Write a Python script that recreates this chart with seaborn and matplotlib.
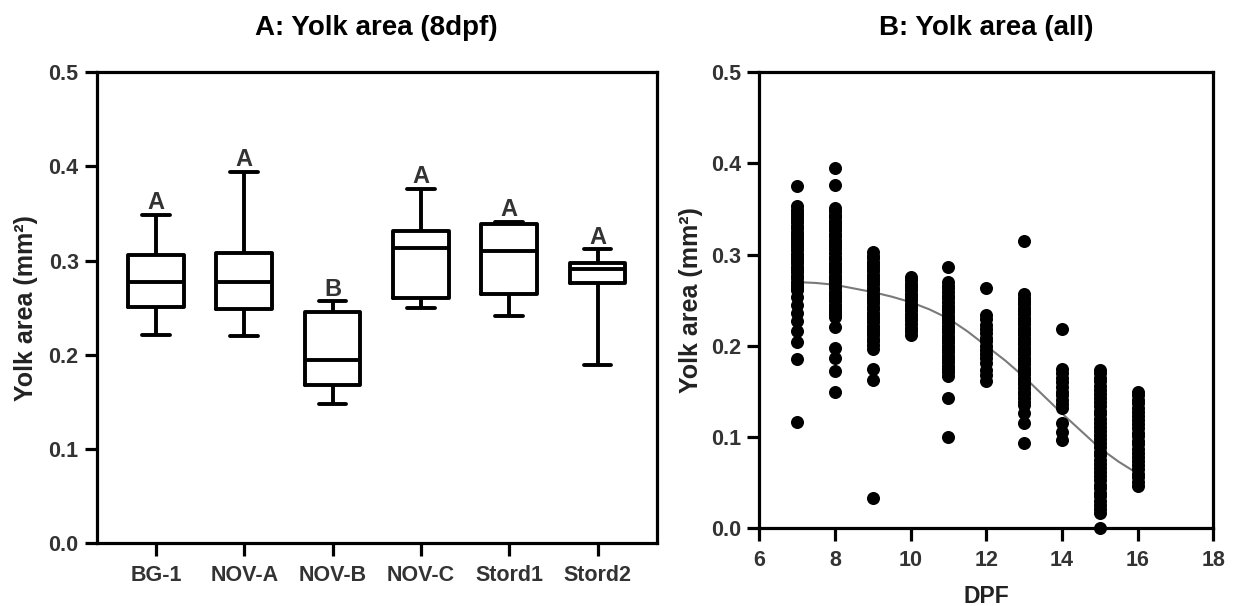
import numpy as np
import pandas as pd
import matplotlib
matplotlib.use("Agg")
import matplotlib.pyplot as plt
from matplotlib.ticker import FormatStrFormatter
import seaborn as sns

# panel A: min, q1, median, q3, max per population (8 dpf)
groups = ["BG-1", "NOV-A", "NOV-B", "NOV-C", "Stord1", "Stord2"]
bg1 = [0.221, 0.251, 0.277, 0.306, 0.349]
nov_a = [0.220, 0.249, 0.277, 0.308, 0.394]
nov_b = [0.148, 0.168, 0.195, 0.246, 0.257]
nov_c = [0.250, 0.260, 0.314, 0.332, 0.376]
stord1 = [0.241, 0.265, 0.310, 0.339, 0.341]
stord2 = [0.189, 0.276, 0.2915, 0.298, 0.312]
letters = ["A", "A", "B", "A", "A", "A"]

# panel B: yolk area of every larva by day post fertilisation
d7 = [0.375, 0.353, 0.349, 0.346, 0.342, 0.339, 0.336, 0.332, 0.329, 0.325, 0.322, 0.318,
      0.315, 0.312, 0.308, 0.305, 0.301, 0.298, 0.294, 0.291, 0.287, 0.284, 0.281, 0.277,
      0.274, 0.270, 0.267, 0.264, 0.261, 0.254, 0.245, 0.236, 0.227, 0.216, 0.204, 0.186, 0.117]
d8 = [0.395, 0.376, 0.351, 0.348, 0.344, 0.341, 0.337, 0.334, 0.330, 0.327, 0.323, 0.320,
      0.316, 0.313, 0.309, 0.306, 0.302, 0.298, 0.295, 0.291, 0.288, 0.284, 0.281, 0.277,
      0.273, 0.270, 0.266, 0.263, 0.259, 0.256, 0.252, 0.249, 0.245, 0.242, 0.238, 0.235,
      0.232, 0.221, 0.198, 0.187, 0.172, 0.150]
d9 = [0.303, 0.299, 0.296, 0.292, 0.289, 0.285, 0.282, 0.278, 0.275, 0.271, 0.268, 0.264,
      0.261, 0.257, 0.254, 0.250, 0.247, 0.243, 0.240, 0.236, 0.233, 0.229, 0.226, 0.222,
      0.219, 0.215, 0.212, 0.208, 0.205, 0.201, 0.197, 0.175, 0.163, 0.033]
d10 = [0.276, 0.272, 0.268, 0.265, 0.261, 0.257, 0.254, 0.250, 0.246, 0.243, 0.239, 0.235,
       0.232, 0.228, 0.224, 0.220, 0.216, 0.212]
d11 = [0.287, 0.270, 0.266, 0.263, 0.259, 0.255, 0.252, 0.248, 0.244, 0.241, 0.237, 0.233,
       0.230, 0.226, 0.222, 0.219, 0.215, 0.211, 0.208, 0.204, 0.200, 0.197, 0.193, 0.189,
       0.186, 0.182, 0.178, 0.175, 0.171, 0.167, 0.143, 0.100]
d12 = [0.263, 0.234, 0.229, 0.223, 0.219, 0.214, 0.209, 0.205, 0.200, 0.196, 0.191, 0.187,
       0.181, 0.174, 0.168, 0.161]
d13 = [0.315, 0.257, 0.253, 0.249, 0.246, 0.242, 0.238, 0.235, 0.231, 0.227, 0.224, 0.220,
       0.216, 0.213, 0.209, 0.205, 0.202, 0.198, 0.194, 0.191, 0.187, 0.183, 0.180, 0.176,
       0.172, 0.169, 0.165, 0.161, 0.158, 0.154, 0.150, 0.147, 0.143, 0.139, 0.135, 0.126,
       0.115, 0.093]
d14 = [0.219, 0.175, 0.170, 0.165, 0.160, 0.155, 0.150, 0.146, 0.141, 0.136, 0.132, 0.116,
       0.106, 0.097]
d15 = [0.174, 0.170, 0.165, 0.161, 0.156, 0.152, 0.147, 0.143, 0.138, 0.134, 0.129, 0.125,
       0.120, 0.116, 0.111, 0.107, 0.102, 0.098, 0.093, 0.089, 0.084, 0.080, 0.075, 0.071,
       0.066, 0.062, 0.057, 0.053, 0.048, 0.044, 0.039, 0.035, 0.030, 0.026, 0.021, 0.017,
       0.000]
d16 = [0.150, 0.146, 0.141, 0.137, 0.132, 0.128, 0.123, 0.119, 0.114, 0.110, 0.105, 0.101,
       0.096, 0.092, 0.087, 0.083, 0.078, 0.074, 0.069, 0.065, 0.060, 0.056, 0.051, 0.046]

# fitted curve
curve_dpf = [7, 7.5, 8, 8.5, 9, 9.5, 10, 10.5, 11, 11.5, 12, 12.5, 13, 13.5, 14, 14.5, 15, 15.5, 16]
curve_area = [0.270, 0.269, 0.267, 0.263, 0.259, 0.254, 0.248, 0.240, 0.230, 0.216, 0.200,
              0.184, 0.166, 0.146, 0.126, 0.107, 0.088, 0.073, 0.060]

boxes = [bg1, nov_a, nov_b, nov_c, stord1, stord2]
df_a = pd.DataFrame({
    "group": np.repeat(groups, 5),
    "area": np.concatenate(boxes),
})

by_day = {7: d7, 8: d8, 9: d9, 10: d10, 11: d11, 12: d12, 13: d13, 14: d14, 15: d15, 16: d16}
df_b = pd.DataFrame({
    "dpf": np.concatenate([[k] * len(v) for k, v in by_day.items()]),
    "area": np.concatenate(list(by_day.values())),
})

sns.set_style("ticks")
plt.rcParams["font.family"] = ["Liberation Sans", "DejaVu Sans"]
plt.rcParams["font.weight"] = "bold"
plt.rcParams["axes.labelweight"] = "bold"

txt = "#333333"
fig = plt.figure(figsize=(12.34, 6.06), dpi=100)
ax1 = fig.add_axes([0.0784, 0.1035, 0.4538, 0.7772])
ax2 = fig.add_axes([0.6153, 0.1282, 0.3679, 0.7525])

sns.boxplot(data=df_a, x="group", y="area", order=groups, fill=False, color="black",
            width=0.63, whis=(0, 100), linewidth=2.8, ax=ax1)
for i, lab in enumerate(letters):
    ax1.text(i, max(boxes[i]) + 0.006, lab, ha="center", va="baseline",
             fontsize=17, color=txt)
ax1.set_xlim(-0.67, 5.67)
ax1.set_ylim(0, 0.5)
ax1.set_yticks([0, 0.1, 0.2, 0.3, 0.4, 0.5])
ax1.set_xlabel("")
ax1.set_ylabel("Yolk area (mm²)", fontsize=18, color="#222222", labelpad=7.5)
ax1.set_title("A: Yolk area (8dpf)", fontsize=20, fontweight="bold", color="black", pad=27)

sns.lineplot(x=curve_dpf, y=curve_area, color="#7a7a7a", linewidth=1.5, ax=ax2, zorder=1)
sns.scatterplot(data=df_b, x="dpf", y="area", color="black", s=88, linewidth=0,
                ax=ax2, zorder=2, clip_on=False)
ax2.set_xlim(6, 18)
ax2.set_xticks(range(6, 19, 2))
ax2.set_ylim(0, 0.5)
ax2.set_yticks([0, 0.1, 0.2, 0.3, 0.4, 0.5])
ax2.set_xlabel("DPF", fontsize=16.5, color="#222222", labelpad=10)
ax2.set_ylabel("Yolk area (mm²)", fontsize=18, color="#222222", labelpad=5.5)
ax2.set_title("B: Yolk area (all)", fontsize=20, fontweight="bold", color="black", pad=27)

for ax in (ax1, ax2):
    for s in ax.spines.values():
        s.set_visible(True)
        s.set_linewidth(2.3)
        s.set_color("black")
    ax.tick_params(width=2.3, length=9, labelsize=15.5, color="black",
                   labelcolor=txt, pad=4, direction="out")
    ax.tick_params(axis="x", pad=6.5)
    ax.yaxis.set_major_formatter(FormatStrFormatter("%.1f"))

fig.savefig("out.png", dpi=100)
